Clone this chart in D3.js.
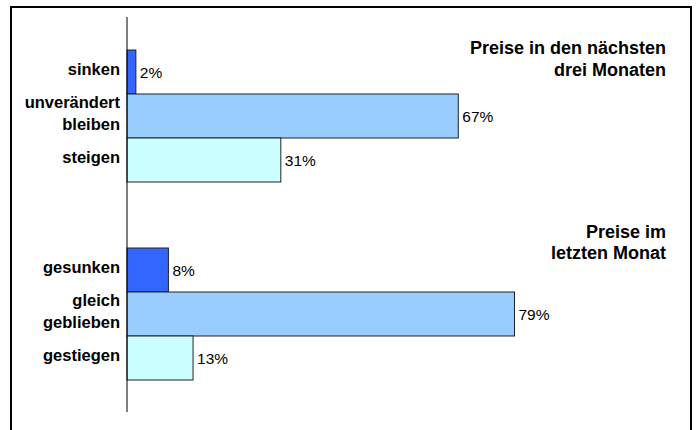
<!DOCTYPE html>
<html>
<head>
<meta charset="utf-8">
<script src="https://cdn.jsdelivr.net/npm/d3@7"></script>
<style>
  html, body { margin: 0; padding: 0; background: #fff; }
  svg { display: block; font-family: "Liberation Sans", Arial, Helvetica, sans-serif; }
</style>
</head>
<body>
<svg id="chart" width="696" height="430"></svg>
<script>
// ---- data ----
const group1Title = ["Preise in den nächsten", "drei Monaten"];
const group1Categories = [["sinken"], ["unverändert", "bleiben"], ["steigen"]];
const group1Values = [1.8, 67.2, 31.2];

const group2Title = ["Preise im", "letzten Monat"];
const group2Categories = [["gesunken"], ["gleich", "geblieben"], ["gestiegen"]];
const group2Values = [8.4, 78.6, 13.4];

const seriesColors = ["#3366FF", "#99CCFF", "#CCFFFF"];

// ---- layout ----
const svg = d3.select("#chart");
const axisX = 127;
const x = d3.scaleLinear().domain([0, 100]).range([axisX, axisX + 493]);
// row index scale: 9 row-steps from top of axis to bottom
const y = d3.scaleLinear().domain([0, 9]).range([17, 413]);
const step = y(1) - y(0);

const groups = [
  { title: group1Title, cats: group1Categories, vals: group1Values, start: 0.75, titleY: 0.75, titleDy: 4 },
  { title: group2Title, cats: group2Categories, vals: group2Values, start: 5.25, titleY: 5.25, titleDy: -10.5 }
];

// frame
svg.append("rect")
  .attr("x", 11).attr("y", 7)
  .attr("width", 680).attr("height", 450)
  .attr("fill", "none").attr("stroke", "#000").attr("stroke-width", 2);

groups.forEach(g => {
  const rows = g.vals.map((v, i) => ({ v, cat: g.cats[i], i, top: y(g.start + i) }));

  const gg = svg.append("g");
  gg.selectAll("rect.bar").data(rows).join("rect")
    .attr("class", "bar")
    .attr("x", x(0))
    .attr("y", d => d.top)
    .attr("width", d => x(d.v) - x(0))
    .attr("height", step)
    .attr("fill", d => seriesColors[d.i])
    .attr("stroke", "#222")
    .attr("stroke-width", 1);

  // value labels
  gg.selectAll("text.val").data(rows).join("text")
    .attr("class", "val")
    .attr("x", d => x(d.v) + 4)
    .attr("y", d => d.top + step / 2 + 5.5)
    .attr("font-size", "15.5px")
    .attr("fill", "#000")
    .text(d => Math.round(d.v) + "%");

  // category labels
  const lab = gg.selectAll("text.cat").data(rows).join("text")
    .attr("class", "cat")
    .attr("text-anchor", "end")
    .attr("font-size", "16.5px")
    .attr("font-weight", "bold")
    .attr("fill", "#000");
  lab.each(function(d) {
    const t = d3.select(this);
    const c = d.top + step / 2;
    if (d.cat.length === 1) {
      t.append("tspan").attr("x", axisX - 7).attr("y", c + 3).text(d.cat[0]);
    } else {
      t.append("tspan").attr("x", axisX - 7).attr("y", c - 8).text(d.cat[0]);
      t.append("tspan").attr("x", axisX - 7).attr("y", c + 13.5).text(d.cat[1]);
    }
  });

  // group title
  const tt = svg.append("text")
    .attr("text-anchor", "end")
    .attr("font-size", "18px")
    .attr("font-weight", "bold")
    .attr("fill", "#000");
  g.title.forEach((line, k) => {
    tt.append("tspan").attr("x", 666).attr("y", y(g.titleY) + g.titleDy + k * 21.8).text(line);
  });
});

// vertical axis line
svg.append("line")
  .attr("x1", axisX).attr("x2", axisX)
  .attr("y1", y(0)).attr("y2", y(9) - 1)
  .attr("stroke", "#000").attr("stroke-width", 1);
</script>
</body>
</html>
